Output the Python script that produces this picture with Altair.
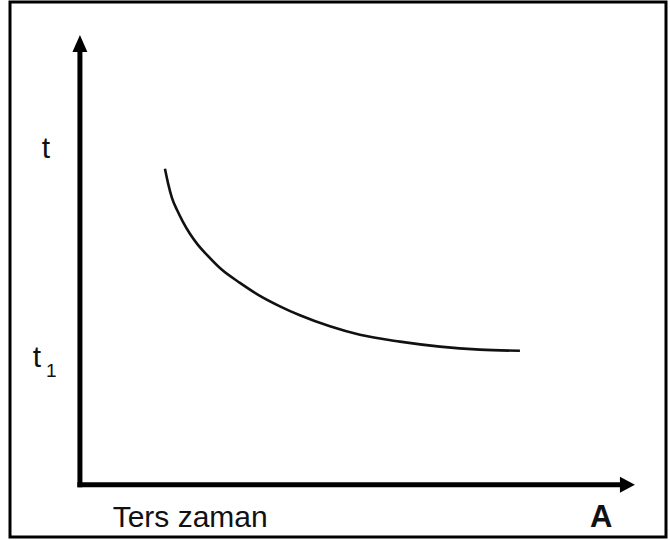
import altair as alt
import pandas as pd

# Inverse-time characteristic: trip time t falls as current A rises,
# flattening out towards the minimum time t1.
curve_a = [15.32, 15.86, 16.58, 17.48, 18.56, 19.82, 21.26, 22.88, 25.59, 28.83,
           32.43, 36.04, 39.64, 45.05, 50.45, 57.66, 64.86, 72.07, 79.28]
curve_t = [70.22, 67.11, 63.78, 61.11, 58.44, 55.78, 53.33, 51.11, 47.78, 44.89,
           42.00, 39.67, 37.67, 35.22, 33.33, 31.82, 30.71, 30.04, 29.78]

# Axis extents (arrow tips) in the same units
axis_end = 100

# Level labels on the time axis
level_labels = ["t", "t"]
level_values = [72.7, 26.2]
sub_labels = ["1"]
sub_values = [24.0]

X_DOM = [-12.6, 105.6]
Y_DOM = [-11.6, 107.3]
xs = alt.Scale(domain=X_DOM, nice=False, zero=False)
ys = alt.Scale(domain=Y_DOM, nice=False, zero=False)
noax = None

INK = "#111111"

curve_df = pd.DataFrame({"a": curve_a, "t": curve_t})
curve = alt.Chart(curve_df).mark_line(
    color=INK, strokeWidth=2.6, interpolate="monotone"
).encode(
    x=alt.X("a:Q", scale=xs, axis=noax),
    y=alt.Y("t:Q", scale=ys, axis=noax),
)

# Axes drawn as thick rules with triangular arrow heads
vaxis = alt.Chart(pd.DataFrame({"x": [0], "y": [0], "y2": [axis_end - 3.5]})).mark_rule(
    color="black", strokeWidth=5, strokeCap="square"
).encode(x=alt.X("x:Q", scale=xs, axis=noax), y=alt.Y("y:Q", scale=ys, axis=noax), y2="y2:Q")

haxis = alt.Chart(pd.DataFrame({"x": [0], "x2": [axis_end - 2.5], "y": [0]})).mark_rule(
    color="black", strokeWidth=5, strokeCap="square"
).encode(x=alt.X("x:Q", scale=xs, axis=noax), x2="x2:Q", y=alt.Y("y:Q", scale=ys, axis=noax))

up_head = alt.Chart(pd.DataFrame({"x": [0], "y": [axis_end - 1.9]})).mark_point(
    shape="M0,-1L-0.88,1L0.88,1Z", size=289, filled=True, color="black", opacity=1
).encode(x=alt.X("x:Q", scale=xs, axis=noax), y=alt.Y("y:Q", scale=ys, axis=noax))

right_head = alt.Chart(pd.DataFrame({"x": [axis_end - 1.35], "y": [0]})).mark_point(
    shape="M1,0L-1,-1.07L-1,1.07Z", size=225, filled=True, color="black", opacity=1
).encode(x=alt.X("x:Q", scale=xs, axis=noax), y=alt.Y("y:Q", scale=ys, axis=noax))

# Labels on the time axis
lvl_df = pd.DataFrame({"label": level_labels, "v": level_values, "u": [-6.9, -8.5]})
levels = alt.Chart(lvl_df).mark_text(
    font="Liberation Sans", fontSize=30, color=INK, align="left", baseline="alphabetic"
).encode(
    x=alt.X("u:Q", scale=xs, axis=noax),
    y=alt.Y("v:Q", scale=ys, axis=noax),
    text="label:N",
)

sub_df = pd.DataFrame({"label": sub_labels, "v": sub_values, "u": [-6.1]})
subs = alt.Chart(sub_df).mark_text(
    font="Liberation Sans", fontSize=19, color=INK, align="left", baseline="alphabetic"
).encode(
    x=alt.X("u:Q", scale=xs, axis=noax),
    y=alt.Y("v:Q", scale=ys, axis=noax),
    text="label:N",
)

# Captions under the current axis
cap_df = pd.DataFrame({"label": ["Ters zaman"], "u": [5.9], "v": [-9.3]})
caption = alt.Chart(cap_df).mark_text(
    font="Liberation Sans", fontSize=30, color=INK, align="left", baseline="alphabetic"
).encode(
    x=alt.X("u:Q", scale=xs, axis=noax),
    y=alt.Y("v:Q", scale=ys, axis=noax),
    text="label:N",
)

a_df = pd.DataFrame({"label": ["A"], "u": [91.9], "v": [-9.3]})
a_label = alt.Chart(a_df).mark_text(
    font="Liberation Sans", fontSize=31, fontWeight="bold", color=INK, align="left",
    baseline="alphabetic"
).encode(
    x=alt.X("u:Q", scale=xs, axis=noax),
    y=alt.Y("v:Q", scale=ys, axis=noax),
    text="label:N",
)

chart = alt.layer(
    curve, vaxis, haxis, up_head, right_head, levels, subs, caption, a_label
).properties(
    width=656,
    height=535,
    padding={"left": 10, "top": 2, "right": 4, "bottom": 3},
    autosize=alt.AutoSizeParams(type="none"),
    background="white",
).configure_view(
    stroke="black", strokeWidth=3
)

chart.save("out.html", embed_options={"renderer": "svg", "actions": False})
